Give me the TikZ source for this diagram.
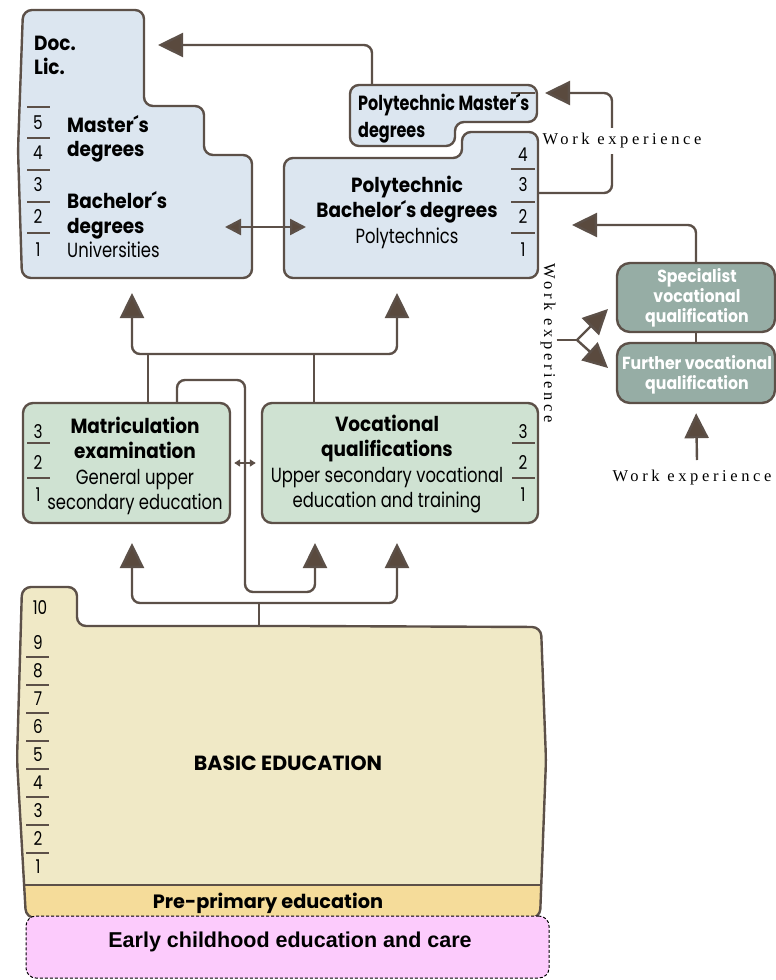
\documentclass[tikz,border=0pt]{standalone}
\usepackage{fontspec}
\setmainfont{Poppins}
\newfontfamily\lightcond[FakeStretch=0.8]{Poppins}
\newfontfamily\boldcond[FakeStretch=0.9]{Poppins}
\newfontfamily\narrowbold[FakeStretch=0.78]{Poppins}
\newfontfamily\workfont[LetterSpace=22]{Liberation Serif}
\newfontfamily\ecfont{Liberation Sans}
\usetikzlibrary{arrows.meta, positioning}

\definecolor{edgec}{HTML}{5C5048}
\definecolor{arrowc}{HTML}{5A4A3E}
\definecolor{unifill}{HTML}{DCE6F0}
\definecolor{secfill}{HTML}{CFE2D2}
\definecolor{basicfill}{HTML}{F0E9C6}
\definecolor{prefill}{HTML}{F5DC9A}
\definecolor{vocfill}{HTML}{96ADA5}
\definecolor{ecfill}{HTML}{FCCBFC}

\begin{document}
\begin{tikzpicture}[x=1pt, y=-1pt,
    >={Triangle[length=25pt,width=24pt,fill=arrowc]},
    edge/.style={draw=edgec, line width=2.4pt},
    box/.style={edge, rounded corners=10pt, inner sep=0pt},
    link/.style={draw=edgec, line width=2.4pt, rounded corners=8pt},
    tick/.style={draw=edgec, line width=1.4pt},
    num/.style={font=\lightcond\fontsize{19}{19}\selectfont, inner sep=0pt},
    head/.style={font=\boldcond\bfseries\fontsize{20.5}{24.5}\selectfont, inner sep=0pt},
    txt/.style={font=\boldcond\fontsize{20.5}{25.5}\selectfont, align=center, inner sep=0pt},
    whitetxt/.style={font=\boldcond\bfseries\fontsize{17.5}{20}\selectfont, text=white, align=center, inner sep=0pt},
    work/.style={font=\workfont\fontsize{16.5}{16.5}\selectfont, inner sep=1pt}]

  \useasboundingbox (0,0) rectangle (776,980);

  % higher education
  \draw[edge, fill=unifill, rounded corners=9pt] (130,278) -- (22,278) -- (18,150) -- (23,10)
    -- (144,10) -- (144,106) -- (204,106) -- (204,155) -- (252,155) -- (252,278) -- cycle;
  \draw[edge, fill=unifill, rounded corners=9pt] (440,85) -- (537,85) -- (537,122) -- (455,122)
    -- (455,146) -- (350,146) -- (350,85) -- cycle;
  \draw[edge, fill=unifill, rounded corners=9pt] (400,278) -- (538,278) -- (538,132) -- (462,132)
    -- (462,158) -- (284,158) -- (284,278) -- cycle;

  \foreach \y in {107,138,170,202,233} \draw[tick] (27,\y) -- (50,\y);
  \foreach \n/\y in {5/123,4/153,3/185,2/217,1/250} \node[num] (u\n) at (38,\y) {\n};
  \foreach \y in {169,202,233} \draw[tick] (511,\y) -- (535,\y);
  \foreach \n/\y in {4/155,3/185,2/217,1/250} \node[num] (p\n) at (523,\y) {\n};
  \draw[tick] (511,93) -- (535,93);

  \node[head, anchor=west, align=left] (doc) at (34,55.5) {Doc.\\Lic.};
  \node[head, anchor=west, align=left] (mast) at (67,139) {Master´s\\degrees};
  \node[head, anchor=west, align=left] (bach) at (67,225) {Bachelor´s\\degrees\\{\lightcond\mdseries Universities}};
  \node[head, anchor=west, align=left, font=\narrowbold\bfseries\fontsize{20.5}{27}\selectfont] (pmas) at (358,118.5) {Polytechnic Master´s\\degrees};
  \node[txt] (pbach) at (407,212) {{\bfseries Polytechnic}\\{\bfseries Bachelor´s degrees}\\{\lightcond Polytechnics}};

  % upper secondary
  \node[box, fill=secfill, minimum width=207pt, minimum height=120pt] (mat) at (126.5,463) {};
  \node[box, fill=secfill, minimum width=276pt, minimum height=120pt] (voc) at (400,463) {};
  \node[txt] (mattxt) at (135,466) {{\bfseries Matriculation}\\{\bfseries examination}\\{\lightcond General upper}\\{\lightcond secondary education}};
  \node[txt] (voctxt) at (387,464) {{\bfseries Vocational}\\{\bfseries qualifications}\\{\lightcond Upper secondary vocational}\\{\lightcond education and training}};
  \foreach \y in {443,478} {
    \draw[tick] (27,\y) -- (50,\y);
    \draw[tick] (512,\y) -- (535,\y);
  }
  \foreach \n/\y in {3/432,2/463,1/495} {
    \node[num] (m\n) at (38,\y) {\n};
    \node[num] (v\n) at (523,\y) {\n};
  }

  % further vocational
  \node[box, fill=vocfill, rounded corners=13pt, minimum width=158pt, minimum height=69pt] (spec) at (696,297.5) {};
  \node[box, fill=vocfill, rounded corners=13pt, minimum width=158pt, minimum height=60pt] (fur) at (696,373) {};
  \node[whitetxt] (spectxt) at (697,298) {Specialist\\vocational\\qualification};
  \node[whitetxt] (furtxt) at (697,375) {Further vocational\\qualification};

  % basic education
  \begin{scope}
    \clip[rounded corners=9pt] (300,626) -- (541,627) -- (546,760) -- (540,918) -- (26,918)
      -- (17,760) -- (22,587) -- (77,587) -- (77,626) -- cycle;
    \fill[basicfill] (0,580) rectangle (560,885);
    \fill[prefill] (0,885) rectangle (560,930);
    \draw[edge] (0,885) -- (560,885);
  \end{scope}
  \draw[edge, rounded corners=9pt] (300,626) -- (541,627) -- (546,760) -- (540,918) -- (26,918)
    -- (17,760) -- (22,587) -- (77,587) -- (77,626) -- cycle;
  \node[num] (b10) at (40,608) {10};
  \foreach \n in {1,...,9} \node[num] (b\n) at (38,{867-28.1*(\n-1)}) {\n};
  \foreach \k in {0,...,7} \draw[tick] (26,{657+28*\k}) -- (49,{657+28*\k});
  \node[font=\bfseries\fontsize{20.5}{20.5}\selectfont, inner sep=0pt] (basic) at (288,763) {BASIC EDUCATION};
  \node[font=\bfseries\fontsize{19.3}{19.3}\selectfont, inner sep=0pt] (pre) at (268,903) {Pre-primary education};

  \node[box, fill=ecfill, draw=black, line width=1pt, dash pattern=on 3pt off 2pt,
        minimum width=523pt, minimum height=62pt] (ecec) at (287.5,947) {};
  \node[font=\ecfont\bfseries\fontsize{21.5}{21.5}\selectfont, inner sep=0pt] (ectxt) at (290,942) {Early childhood education and care};

  % work experience labels
  \node[work, rotate=-90] (we2) at (548,343) {Work experience};
  \node[work] (we3) at (692,478) {Work experience};

  % connectors
  \coordinate (pm-top) at (372,85);
  \coordinate (doc-in) at (158,45);
  \draw[link, ->] (pm-top) |- (doc-in);

  \coordinate (pb-east) at (538,193);
  \coordinate (we-turn) at (612,93);
  \coordinate (pm-in) at (545,93);
  \draw[link, ->] (pb-east) -| (we-turn) -- (pm-in);
  \node[work, fill=white, inner ysep=6pt] (we1) at (622,141) {Work experience};

  \coordinate (pb-in) at (572,225);
  \draw[link, ->] (spec.north) |- (pb-in);
  \draw[link] (spec.south) -- (fur.north);

  \coordinate (we3-top) at (697,460);
  \draw[link, ->, shorten >=9pt] (we3-top) -- (fur.south);

  \coordinate (fork) at (577,340);
  \coordinate (spec-in) at (608,309);
  \coordinate (fur-in) at (608,368);
  \draw[link] (we2.north |- fork) -- (fork);
  \draw[link, ->] (fork) -- (spec-in);
  \draw[link, ->] (fork) -- (fur-in);

  \coordinate (u-in) at (225,227);
  \coordinate (pb-in2) at (306,227);
  \draw[link, {Triangle[length=16pt,width=16pt,fill=arrowc]}-{Triangle[length=16pt,width=16pt,fill=arrowc]}] (u-in) -- (pb-in2);

  \coordinate (u-tip) at (132,293);
  \coordinate (pb-tip) at (397,293);
  \coordinate (hub-up) at (260,354);
  \draw[link, <->] (u-tip) |- (hub-up) -| (pb-tip);
  \draw[link] ([xshift=21.5pt]mat.north) -- ([xshift=21.5pt]mat.north |- hub-up);
  \draw[link] ([xshift=-86pt]voc.north) -- ([xshift=-86pt]voc.north |- hub-up);

  \coordinate (c1) at (245,380);
  \coordinate (c2) at (245,592);
  \coordinate (v-tip1) at (315,543);
  \draw[link, ->] ([xshift=50.5pt]mat.north) |- (c1) -- (c2) -| (v-tip1);

  \coordinate (m-tip) at (132,543);
  \coordinate (v-tip2) at (397,543);
  \coordinate (hub-low) at (259,603);
  \coordinate (basic-top) at (259,626);
  \draw[link, <->] (m-tip) |- (hub-low) -| (v-tip2);
  \draw[link] (basic-top) -- (hub-low);

  \draw[draw=edgec, line width=1.5pt, shorten <=3pt, shorten >=5pt,
        {Triangle[length=6pt,width=7pt,fill=arrowc]}-{Triangle[length=6pt,width=7pt,fill=arrowc]}] (mat.east) -- (voc.west);
\end{tikzpicture}
\end{document}
